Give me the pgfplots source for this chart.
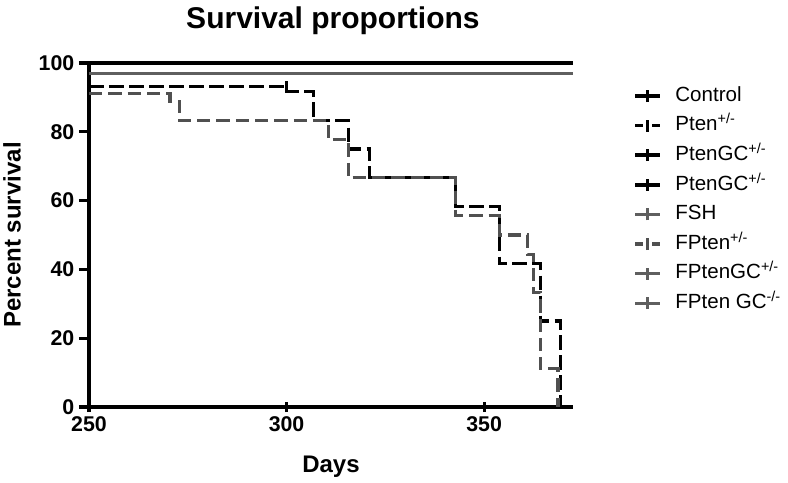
\documentclass[border=0pt]{standalone}
\usepackage{fontspec}
\setmainfont{Liberation Sans}
\usepackage{pgfplots}
\pgfplotsset{compat=1.18}
\definecolor{dgray}{RGB}{80,80,80}
\definecolor{mgray}{RGB}{95,95,95}

\begin{document}
\begin{tikzpicture}
\path[use as bounding box] (-66.75pt,-56.25pt) rectangle (524.25pt,305.25pt);
\begin{axis}[
  at={(0pt,0pt)}, anchor=south west,
  width=363pt, height=258pt, scale only axis,
  xmin=250, xmax=372.5, ymin=0, ymax=100,
  clip=false,
  axis x line*=bottom, axis y line*=left,
  axis line style={-, line width=2.8pt},
  xtick={250,300,350}, ytick={0,20,...,100},
  minor tick num=0,
  xtick align=center, ytick align=outside,
  major tick length=7.5pt,
  tick style={line width=2.4pt, black},
  /pgf/number format/assume math mode=true,
  tick label style={font=\bfseries\fontsize{16}{18}\selectfont},
  title={Survival proportions},
  title style={font=\bfseries\fontsize{22.5}{26}\selectfont, at={(axis description cs:0.504,1.076)}, anchor=base, inner sep=0pt},
  xlabel={Days},
  xlabel style={font=\bfseries\fontsize{18}{20}\selectfont, at={(axis description cs:0.5,-0.143)}, anchor=north, inner sep=0pt},
  ylabel={Percent survival},
  ylabel style={font=\bfseries\fontsize{18}{20}\selectfont, at={(axis description cs:-0.14,0.5)}, anchor=south, rotate=0, inner sep=0pt},
  legend cell align=left,
  legend style={at={(axis description cs:1.124,0.93)}, anchor=north west, draw=none, fill=none,
    font=\fontsize{15.4}{17}\selectfont, row sep=9.2pt, inner sep=0pt,
    nodes={inner sep=0pt, text height=10.5pt, text depth=2.5pt}},
  legend image code/.code={
    \draw[#1] (0pt,0pt) -- (18.75pt,0pt);
    \draw[#1, solid, line width=2.2pt] (9.4pt,-4.5pt) -- (9.4pt,4.5pt);
    \path (29pt,0pt);},
]
% Control
\addplot[black, line width=2.6pt] coordinates {(250,100) (372.5,100)};
\addlegendentry{Control}
% Pten+/-
\addplot[black, line width=2.4pt, dash pattern=on 11pt off 4pt, const plot,
  legend image code/.code={
    \draw[black, line width=2.4pt, dash pattern=on 6pt off 6.75pt] (0pt,0pt) -- (18.75pt,0pt);
    \draw[black, line width=2.4pt] (9.4pt,-4.5pt) -- (9.4pt,4.5pt);
    \path (29pt,0pt);}]
  coordinates {(250,93.1) (300,91.7) (306.8,83.3) (315.6,75) (321,66.7)
    (342.8,58.3) (353.8,41.7) (364.2,25) (369.3,0)};
\addlegendentry{Pten\textsuperscript{+/-}}
% PtenGC+/-
\addplot[black, line width=2.6pt] coordinates {(250,100) (372.5,100)};
\addlegendentry{PtenGC\textsuperscript{+/-}}
\addplot[black, line width=2.6pt] coordinates {(250,100) (372.5,100)};
\addlegendentry{PtenGC\textsuperscript{+/-}}
% FSH
\addplot[mgray, line width=2.4pt] coordinates {(250,97) (372.5,97)};
\addlegendentry{FSH}
% FPten+/-
\addplot[dgray, line width=2.3pt, dash pattern=on 10pt off 4.5pt, const plot,
  legend image code/.code={
    \draw[dgray, line width=2.3pt, dash pattern=on 6pt off 6.75pt] (0pt,0pt) -- (18.75pt,0pt);
    \draw[dgray, line width=2.3pt] (9.4pt,-4.5pt) -- (9.4pt,4.5pt);
    \path (29pt,0pt);}]
  coordinates {(250,91.2) (270.5,88.9) (272.8,83.3) (310.5,77.8) (315.6,66.7)
    (342.8,55.6) (353.8,50) (361,44.4) (362.4,33.3) (364.2,11.1) (368.7,0)};
\addlegendentry{FPten\textsuperscript{+/-}}
% FPtenGC+/-
\addplot[mgray, line width=2.4pt] coordinates {(250,97) (372.5,97)};
\addlegendentry{FPtenGC\textsuperscript{+/-}}
\addplot[mgray, line width=2.4pt] coordinates {(250,97) (372.5,97)};
\addlegendentry{FPten GC\textsuperscript{-/-}}
% censoring mark
\addplot[forget plot, only marks, mark=|, mark size=4pt, line width=2.2pt, black]
  coordinates {(300,93.1)};
\end{axis}
\end{tikzpicture}
\end{document}
